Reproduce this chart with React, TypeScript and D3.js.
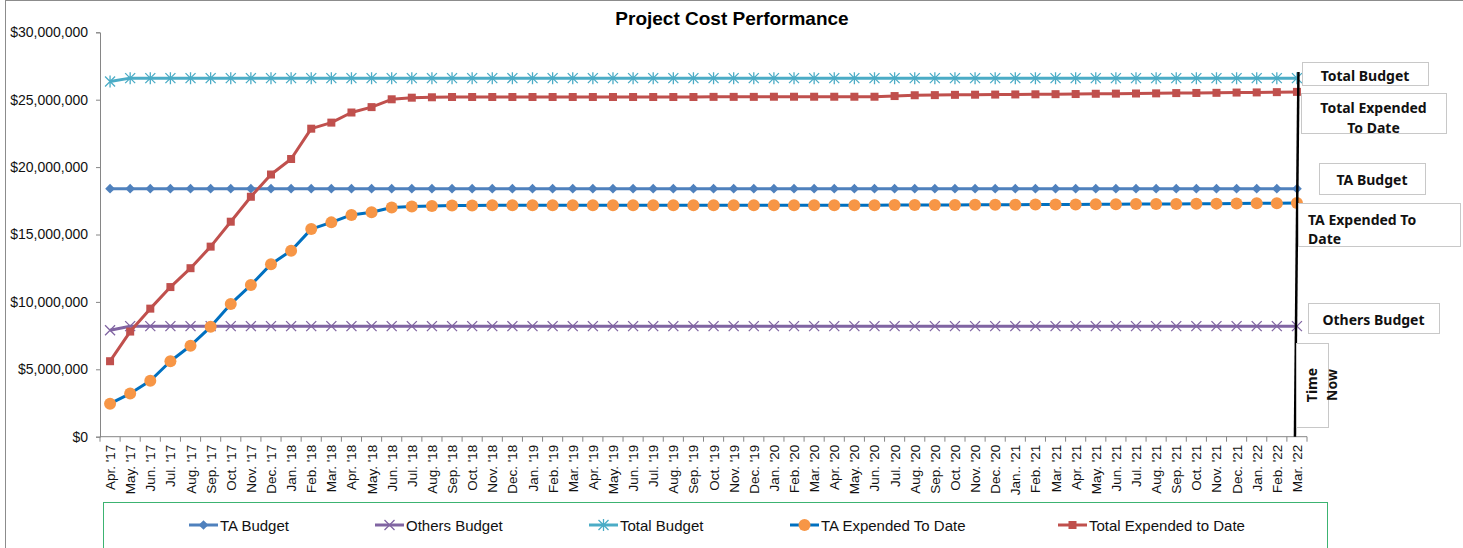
import React, { useEffect, useRef } from "react";
import * as d3 from "d3";

// --- Data (values in millions of dollars) ---
const months = [
  "Apr. '17", "May. '17", "Jun. '17", "Jul. '17", "Aug. '17", "Sep. '17", "Oct. '17", "Nov. '17", "Dec. '17",
  "Jan. '18", "Feb. '18", "Mar. '18", "Apr. '18", "May. '18", "Jun. '18", "Jul. '18", "Aug. '18", "Sep. '18", "Oct. '18", "Nov. '18", "Dec. '18",
  "Jan. '19", "Feb. '19", "Mar. '19", "Apr. '19", "May. '19", "Jun. '19", "Jul. '19", "Aug. '19", "Sep. '19", "Oct. '19", "Nov. '19", "Dec. '19",
  "Jan. '20", "Feb. '20", "Mar. '20", "Apr. '20", "May. '20", "Jun. '20", "Jul. '20", "Aug. '20", "Sep. '20", "Oct. '20", "Nov. '20", "Dec. '20",
  "Jan.. '21", "Feb. '21", "Mar. '21", "Apr. '21", "May. '21", "Jun. '21", "Jul. '21", "Aug. '21", "Sep. '21", "Oct. '21", "Nov. '21", "Dec. '21",
  "Jan. '22", "Feb. '22", "Mar. '22",
];

const taBudget = [
  18.4, 18.4, 18.4, 18.4, 18.4, 18.4, 18.4, 18.4, 18.4, 18.4, 18.4, 18.4, 18.4, 18.4, 18.4,
  18.4, 18.4, 18.4, 18.4, 18.4, 18.4, 18.4, 18.4, 18.4, 18.4, 18.4, 18.4, 18.4, 18.4, 18.4,
  18.4, 18.4, 18.4, 18.4, 18.4, 18.4, 18.4, 18.4, 18.4, 18.4, 18.4, 18.4, 18.4, 18.4, 18.4,
  18.4, 18.4, 18.4, 18.4, 18.4, 18.4, 18.4, 18.4, 18.4, 18.4, 18.4, 18.4, 18.4, 18.4, 18.4,
];

const othersBudget = [
  7.9, 8.2, 8.2, 8.2, 8.2, 8.2, 8.2, 8.2, 8.2, 8.2, 8.2, 8.2, 8.2, 8.2, 8.2,
  8.2, 8.2, 8.2, 8.2, 8.2, 8.2, 8.2, 8.2, 8.2, 8.2, 8.2, 8.2, 8.2, 8.2, 8.2,
  8.2, 8.2, 8.2, 8.2, 8.2, 8.2, 8.2, 8.2, 8.2, 8.2, 8.2, 8.2, 8.2, 8.2, 8.2,
  8.2, 8.2, 8.2, 8.2, 8.2, 8.2, 8.2, 8.2, 8.2, 8.2, 8.2, 8.2, 8.2, 8.2, 8.2,
];

const totalBudget = [
  26.35, 26.6, 26.6, 26.6, 26.6, 26.6, 26.6, 26.6, 26.6, 26.6, 26.6, 26.6, 26.6, 26.6, 26.6,
  26.6, 26.6, 26.6, 26.6, 26.6, 26.6, 26.6, 26.6, 26.6, 26.6, 26.6, 26.6, 26.6, 26.6, 26.6,
  26.6, 26.6, 26.6, 26.6, 26.6, 26.6, 26.6, 26.6, 26.6, 26.6, 26.6, 26.6, 26.6, 26.6, 26.6,
  26.6, 26.6, 26.6, 26.6, 26.6, 26.6, 26.6, 26.6, 26.6, 26.6, 26.6, 26.6, 26.6, 26.6, 26.6,
];

const taExpended = [
  2.45, 3.2, 4.15, 5.6, 6.75, 8.15, 9.85, 11.25, 12.8, 13.8, 15.4, 15.9, 16.45, 16.65, 17.0,
  17.08, 17.12, 17.15, 17.16, 17.17, 17.17, 17.17, 17.17, 17.17, 17.17, 17.17, 17.17, 17.17, 17.17, 17.17,
  17.17, 17.17, 17.17, 17.17, 17.17, 17.17, 17.17, 17.17, 17.17, 17.18, 17.18, 17.19, 17.19, 17.2, 17.2,
  17.21, 17.22, 17.22, 17.23, 17.24, 17.25, 17.26, 17.27, 17.27, 17.28, 17.29, 17.3, 17.31, 17.32, 17.33,
];

const totalExpended = [
  5.6, 7.8, 9.5, 11.1, 12.5, 14.1, 15.95, 17.8, 19.45, 20.6, 22.85, 23.3, 24.05, 24.45, 25.03,
  25.15, 25.18, 25.2, 25.2, 25.2, 25.2, 25.2, 25.2, 25.2, 25.2, 25.2, 25.2, 25.2, 25.2, 25.2,
  25.21, 25.21, 25.21, 25.22, 25.22, 25.22, 25.22, 25.22, 25.22, 25.27, 25.33, 25.34, 25.36, 25.37, 25.38,
  25.39, 25.4, 25.41, 25.42, 25.44, 25.45, 25.46, 25.47, 25.49, 25.5, 25.51, 25.53, 25.54, 25.56, 25.58,
];

const yTicks = [0, 5, 10, 15, 20, 25, 30];

const series = [
  { name: "TA Budget", values: taBudget, line: "#4F81BD", marker: "diamond", fill: "#4F81BD" },
  { name: "Others Budget", values: othersBudget, line: "#8064A2", marker: "x", fill: "#8064A2" },
  { name: "Total Budget", values: totalBudget, line: "#4BACC6", marker: "star", fill: "#4BACC6" },
  { name: "TA Expended To Date", values: taExpended, line: "#0070C0", marker: "circle", fill: "#F79646" },
  { name: "Total Expended to Date", values: totalExpended, line: "#C0504D", marker: "square", fill: "#C0504D" },
];

const legendX = [189, 375, 589, 790, 1058];

// annotation boxes on the right: text lines, box [x, y, w, h], first baseline, line step
const notes = [
  { lines: ["Total  Budget"], box: [1302, 62, 126, 23], base: 81, step: 0, anchor: "middle" },
  { lines: ["Total Expended", "To Date"], box: [1301, 93, 145, 40], base: 113, step: 20, anchor: "middle" },
  { lines: ["TA Budget"], box: [1319, 163, 106, 31], base: 184.5, step: 0, anchor: "middle" },
  { lines: ["TA Expended To", "Date"], box: [1298, 203, 162, 43], base: 225, step: 19, anchor: "start" },
  { lines: ["Others Budget"], box: [1308, 303, 131, 30], base: 324.5, step: 0, anchor: "middle" },
];

const W = 1463;
const H = 548;
const FONT = "'Liberation Sans', Arial, sans-serif";
const NOTE_FONT = "'Noto Sans', 'Open Sans', sans-serif";

function drawMarker(g, type, x, y, fill, stroke) {
  if (type === "diamond") {
    g.append("path").attr("d", d3.symbol(d3.symbolDiamond2, 60)())
      .attr("transform", `translate(${x},${y})`).attr("fill", fill);
  } else if (type === "square") {
    g.append("rect").attr("x", x - 4).attr("y", y - 4).attr("width", 8).attr("height", 8).attr("fill", fill);
  } else if (type === "circle") {
    g.append("circle").attr("cx", x).attr("cy", y).attr("r", 6).attr("fill", fill);
  } else if (type === "x") {
    const s = 5;
    g.append("path").attr("d", `M${x - s},${y - s}L${x + s},${y + s}M${x - s},${y + s}L${x + s},${y - s}`)
      .attr("stroke", stroke).attr("stroke-width", 1.3).attr("fill", "none");
  } else if (type === "star") {
    const s = 5;
    g.append("path").attr("d", `M${x - s},${y - s}L${x + s},${y + s}M${x - s},${y + s}L${x + s},${y - s}M${x},${y - s - 1}L${x},${y + s + 1}`)
      .attr("stroke", stroke).attr("stroke-width", 1.3).attr("fill", "none");
  }
}

export default function App() {
  const svgRef = useRef(null);

  useEffect(() => {
    const svg = d3.select(svgRef.current);
    svg.selectAll("*").remove();

    const plot = { left: 100, right: 1307, top: 32.3, bottom: 436.7 };

    // outer chart border
    svg.append("rect").attr("x", 5.5).attr("y", 0.5).attr("width", W).attr("height", H)
      .attr("fill", "#fff").attr("stroke", "#8c8c8c");

    // title
    svg.append("text").attr("x", 732).attr("y", 24.5).attr("text-anchor", "middle")
      .attr("font-family", FONT).attr("font-size", 19).attr("font-weight", "bold")
      .text("Project Cost Performance");

    const x = d3.scaleBand().domain(months).range([plot.left, plot.right]);
    const y = d3.scaleLinear().domain([0, 30]).range([plot.bottom, plot.top]);
    const cx = (m) => x(m) + x.bandwidth() / 2;

    // --- Y axis ---
    const yAxis = svg.append("g").attr("transform", `translate(${plot.left},0)`)
      .call(d3.axisLeft(y).tickValues(yTicks).tickSize(4).tickPadding(8)
        .tickFormat((d) => "$" + d3.format(",")(d * 1000000)));
    yAxis.select(".domain").attr("stroke", "#868686");
    yAxis.selectAll(".tick line").attr("stroke", "#868686");
    yAxis.selectAll("text").attr("font-family", FONT).attr("font-size", 14).attr("fill", "#111");

    // --- X axis ---
    const xAxis = svg.append("g").attr("transform", `translate(0,${plot.bottom})`);
    xAxis.append("line").attr("x1", plot.left).attr("x2", plot.right)
      .attr("stroke", "#868686");
    xAxis.selectAll(".xt").data(months.concat(["__end"])).join("line")
      .attr("x1", (d, i) => plot.left + i * x.bandwidth())
      .attr("x2", (d, i) => plot.left + i * x.bandwidth())
      .attr("y1", 0).attr("y2", 5).attr("stroke", "#868686");
    xAxis.selectAll(".xl").data(months).join("text")
      .attr("transform", (d) => `translate(${cx(d) + 5},8) rotate(-90)`)
      .attr("text-anchor", "end")
      .attr("font-family", FONT).attr("font-size", 13.5).attr("fill", "#111")
      .text((d) => d);

    // --- Series ---
    const line = d3.line().x((d, i) => cx(months[i])).y((d) => y(d));
    series.forEach((s) => {
      svg.append("path").datum(s.values).attr("d", line)
        .attr("fill", "none").attr("stroke", s.line).attr("stroke-width", 3)
        .attr("stroke-linejoin", "round");
      const mg = svg.append("g");
      s.values.forEach((v, i) => drawMarker(mg, s.marker, cx(months[i]), y(v), s.fill, s.fill));
    });

    // --- Time Now line ---
    const tx = cx(months[months.length - 1]);
    svg.append("line").attr("x1", tx + 1.5).attr("y1", 72).attr("x2", tx - 2).attr("y2", plot.bottom)
      .attr("stroke", "#000").attr("stroke-width", 2.5);

    // --- Annotation boxes ---
    notes.forEach((n) => {
      const [bx, by, bw, bh] = n.box;
      svg.append("rect").attr("x", bx + 0.5).attr("y", by + 0.5).attr("width", bw).attr("height", bh)
        .attr("fill", "#fff").attr("stroke", "#c8c8c8");
      const t = svg.append("text").attr("font-family", NOTE_FONT).attr("font-size", 14)
        .attr("font-weight", "bold").attr("text-anchor", n.anchor).attr("fill", "#111");
      const lx = n.anchor === "middle" ? bx + bw / 2 : bx + 10;
      n.lines.forEach((l, i) => {
        t.append("tspan").attr("x", lx).attr("y", n.base + i * n.step).text(l);
      });
    });

    // Time Now box (vertical text)
    svg.append("rect").attr("x", 1296.5).attr("y", 343.5).attr("width", 32).attr("height", 84)
      .attr("fill", "#fff").attr("stroke", "#c8c8c8");
    const tn = svg.append("text").attr("font-family", NOTE_FONT).attr("font-size", 14)
      .attr("font-weight", "bold").attr("text-anchor", "middle").attr("fill", "#111")
      .attr("transform", "translate(1317,385) rotate(-90)");
    tn.append("tspan").attr("x", 0).attr("y", 0).text("Time");
    tn.append("tspan").attr("x", 0).attr("y", 19.5).text("Now");

    // --- Legend ---
    svg.append("rect").attr("x", 103.5).attr("y", 502.5).attr("width", 1224).attr("height", 60)
      .attr("fill", "#fff").attr("stroke", "#3cb371");
    series.forEach((s, i) => {
      const lx = legendX[i];
      const ly = 525;
      svg.append("line").attr("x1", lx).attr("x2", lx + 29).attr("y1", ly).attr("y2", ly)
        .attr("stroke", s.line).attr("stroke-width", 3);
      drawMarker(svg, s.marker, lx + 14.5, ly, s.fill, s.fill);
      svg.append("text").attr("x", lx + 31).attr("y", ly + 5.5)
        .attr("font-family", FONT).attr("font-size", 15).attr("fill", "#111").text(s.name);
    });
  }, []);

  return (
    <div style={{ position: "absolute", left: 0, top: 0 }}>
      <svg ref={svgRef} width={W} height={H} style={{ display: "block" }} />
    </div>
  );
}
